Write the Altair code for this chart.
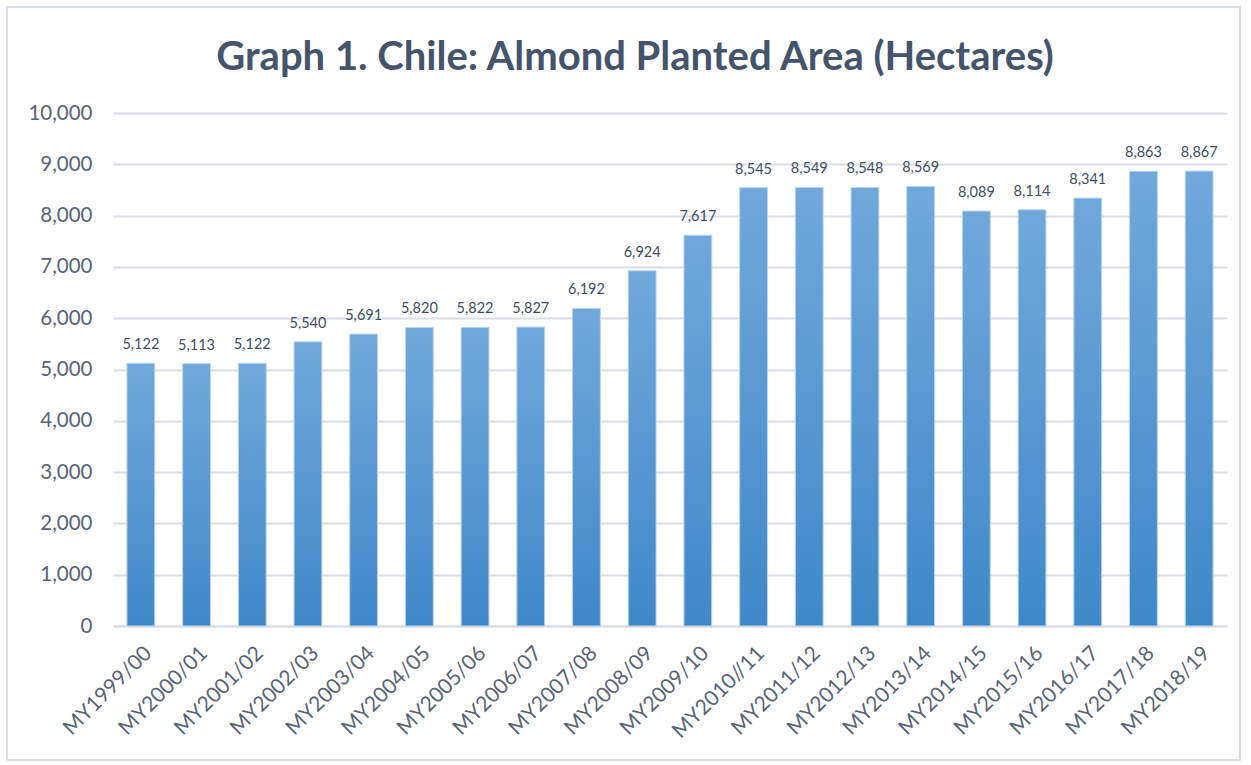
import altair as alt
import pandas as pd

seasons = ["MY1999/00", "MY2000/01", "MY2001/02", "MY2002/03", "MY2003/04",
           "MY2004/05", "MY2005/06", "MY2006/07", "MY2007/08", "MY2008/09",
           "MY2009/10", "MY2010//11", "MY2011/12", "MY2012/13", "MY2013/14",
           "MY2014/15", "MY2015/16", "MY2016/17", "MY2017/18", "MY2018/19"]
hectares = [5122, 5113, 5122, 5540, 5691, 5820, 5822, 5827, 6192, 6924,
            7617, 8545, 8549, 8548, 8569, 8089, 8114, 8341, 8863, 8867]
title_text = ["Graph 1. Chile: Almond Planted Area (Hectares)"]

df = pd.DataFrame({"season": seasons, "area": hectares})
tdf = pd.DataFrame({"t": title_text})

TXT = "#44546A"
AX = "#586476"
GRID = "#D9DEE5"
FONT = "Lato"

x_axis = alt.Axis(title=None, labelAngle=-45, labelFontSize=21,
                  labelColor=AX, labelFont=FONT,
                  ticks=False, domainColor=GRID, domainWidth=2,
                  labelPadding=16, labelAlign="right", labelBaseline="top")
y_axis = alt.Axis(title=None, values=list(range(0, 10001, 1000)),
                  format=",.0f", labelFontSize=20.5, labelColor=AX,
                  labelFont=FONT, ticks=False, domain=False,
                  gridColor=GRID, gridWidth=2, labelPadding=21)
x_scale = alt.Scale(paddingInner=0.5, paddingOuter=0.25)
y_scale = alt.Scale(domain=[0, 10000], nice=False)

x_enc = alt.X("season:N", sort=seasons, scale=x_scale, axis=x_axis)
y_enc = alt.Y("area:Q", scale=y_scale, axis=y_axis)

bars = alt.Chart(df).mark_bar(
    color=alt.Gradient(gradient="linear",
                       stops=[alt.GradientStop(color="#71A8DC", offset=0),
                              alt.GradientStop(color="#3F88C8", offset=1)],
                       x1=0, x2=0, y1=0, y2=1),
    stroke="#BCD6EE", strokeWidth=1
).encode(x=x_enc, y=y_enc)

labels = alt.Chart(df).mark_text(
    baseline="bottom", dy=-11, fontSize=14.5, color="#404F60", font=FONT
).encode(x=x_enc, y=y_enc, text=alt.Text("area:Q", format=","))

border = alt.Chart(tdf).mark_rect(
    fill=None, stroke="#D9DEE5", strokeWidth=2
).encode(x=alt.value(-106), x2=alt.value(1127), y=alt.value(-106), y2=alt.value(647))

title = alt.Chart(tdf).mark_text(
    fontSize=40, font=FONT, fontWeight="bold", color=TXT,
    align="center", baseline="middle"
).encode(x=alt.value(522), y=alt.value(-55), text="t:N")

chart = alt.layer(border, bars, labels, title).properties(
    width=1114, height=513,
    autosize=alt.AutoSizeParams(type="none"),
    padding={"left": 113, "top": 113, "right": 24, "bottom": 139},
    background="white"
).configure_view(stroke=None)

chart.save("out.html", embed_options={"renderer": "svg", "actions": False})
